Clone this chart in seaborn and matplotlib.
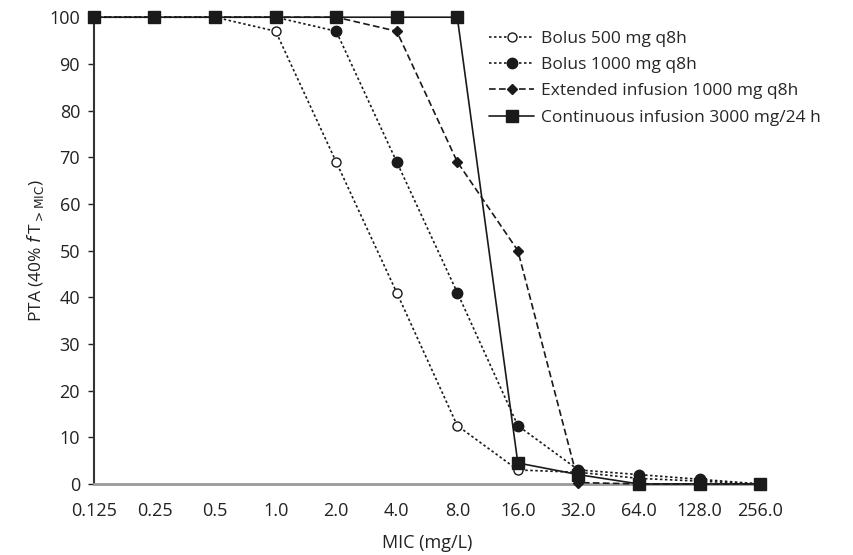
import matplotlib
matplotlib.use("Agg")
import matplotlib.pyplot as plt
import seaborn as sns
import pandas as pd

mic_labels = ["0.125", "0.25", "0.5", "1.0", "2.0", "4.0", "8.0", "16.0", "32.0", "64.0", "128.0", "256.0"]
bolus_500 = [100, 100, 100, 97, 69, 41, 12.5, 3, 2.5, 1.2, 0.6, 0]
bolus_1000 = [100, 100, 100, 100, 97, 69, 41, 12.5, 3, 2, 1, 0]
extended_1000 = [100, 100, 100, 100, 100, 97, 69, 50, 0.3, 0, 0, 0]
continuous_3000 = [100, 100, 100, 100, 100, 100, 100, 4.5, 2, 0, 0, 0]

series_names = ["Bolus 500 mg q8h", "Bolus 1000 mg q8h",
                "Extended infusion 1000 mg q8h", "Continuous infusion 3000 mg/24 h"]
values = [bolus_500, bolus_1000, extended_1000, continuous_3000]

rows = []
for name, vals in zip(series_names, values):
    for i, v in enumerate(vals):
        rows.append({"series": name, "pos": i, "pta": v})
df = pd.DataFrame(rows)

sns.set_theme(style="white")
plt.rcParams["font.family"] = ["Open Sans", "DejaVu Sans"]

fig = plt.figure(figsize=(8.54, 5.55), dpi=100)
ax = fig.add_axes([0.110, 0.128, 0.780, 0.841])

styles = [
    dict(marker="o", markerfacecolor="white", linestyle=(0, (1.5, 1.5)), markersize=6.5),
    dict(marker="o", markerfacecolor="#1a1a1a", linestyle=(0, (1.5, 1.5)), markersize=7.5),
    dict(marker="D", markerfacecolor="#1a1a1a", linestyle=(0, (4, 2)), markersize=5.5),
    dict(marker="s", markerfacecolor="#1a1a1a", linestyle="-", markersize=8),
]

for name, st in zip(series_names, styles):
    sub = df[df["series"] == name]
    sns.lineplot(data=sub, x="pos", y="pta", ax=ax, color="#1a1a1a", linewidth=1.2,
                 marker=st["marker"], markersize=st["markersize"],
                 markerfacecolor=st["markerfacecolor"], markeredgecolor="#1a1a1a",
                 markeredgewidth=1.0, linestyle=st["linestyle"], label=name,
                 clip_on=False, zorder=3)

ax.set_xlim(0, len(mic_labels) - 1)
ax.set_ylim(0, 100)
ax.set_xticks(range(len(mic_labels)))
ax.set_xticklabels(mic_labels)
ax.set_yticks(range(0, 101, 10))
ax.tick_params(axis="both", labelsize=13, colors="#222222", length=0)
ax.tick_params(axis="x", pad=13)
ax.tick_params(axis="y", length=4, direction="out", width=1, left=True, pad=6)

for s in ["top", "right"]:
    ax.spines[s].set_visible(False)
ax.spines["left"].set_color("#333333")
ax.spines["bottom"].set_color("#999999")
ax.spines["left"].set_linewidth(1.5)
ax.spines["bottom"].set_linewidth(2)

ax.set_xlabel("MIC (mg/L)", fontsize=13, color="#222222")
ax.xaxis.set_label_coords(0.5, -0.107)
ax.set_ylabel(r"PTA (40% $f\,$T$_{>\rm MIC}$)", fontsize=12.5, color="#222222")
ax.yaxis.set_label_coords(-0.0725, 0.5)

leg = ax.legend(loc="upper left", bbox_to_anchor=(0.575, 0.997), frameon=False,
                fontsize=12.5, handlelength=2.6, labelspacing=0.58, handletextpad=0.4,
                borderpad=0.2)

fig.savefig("out.png", dpi=100)
